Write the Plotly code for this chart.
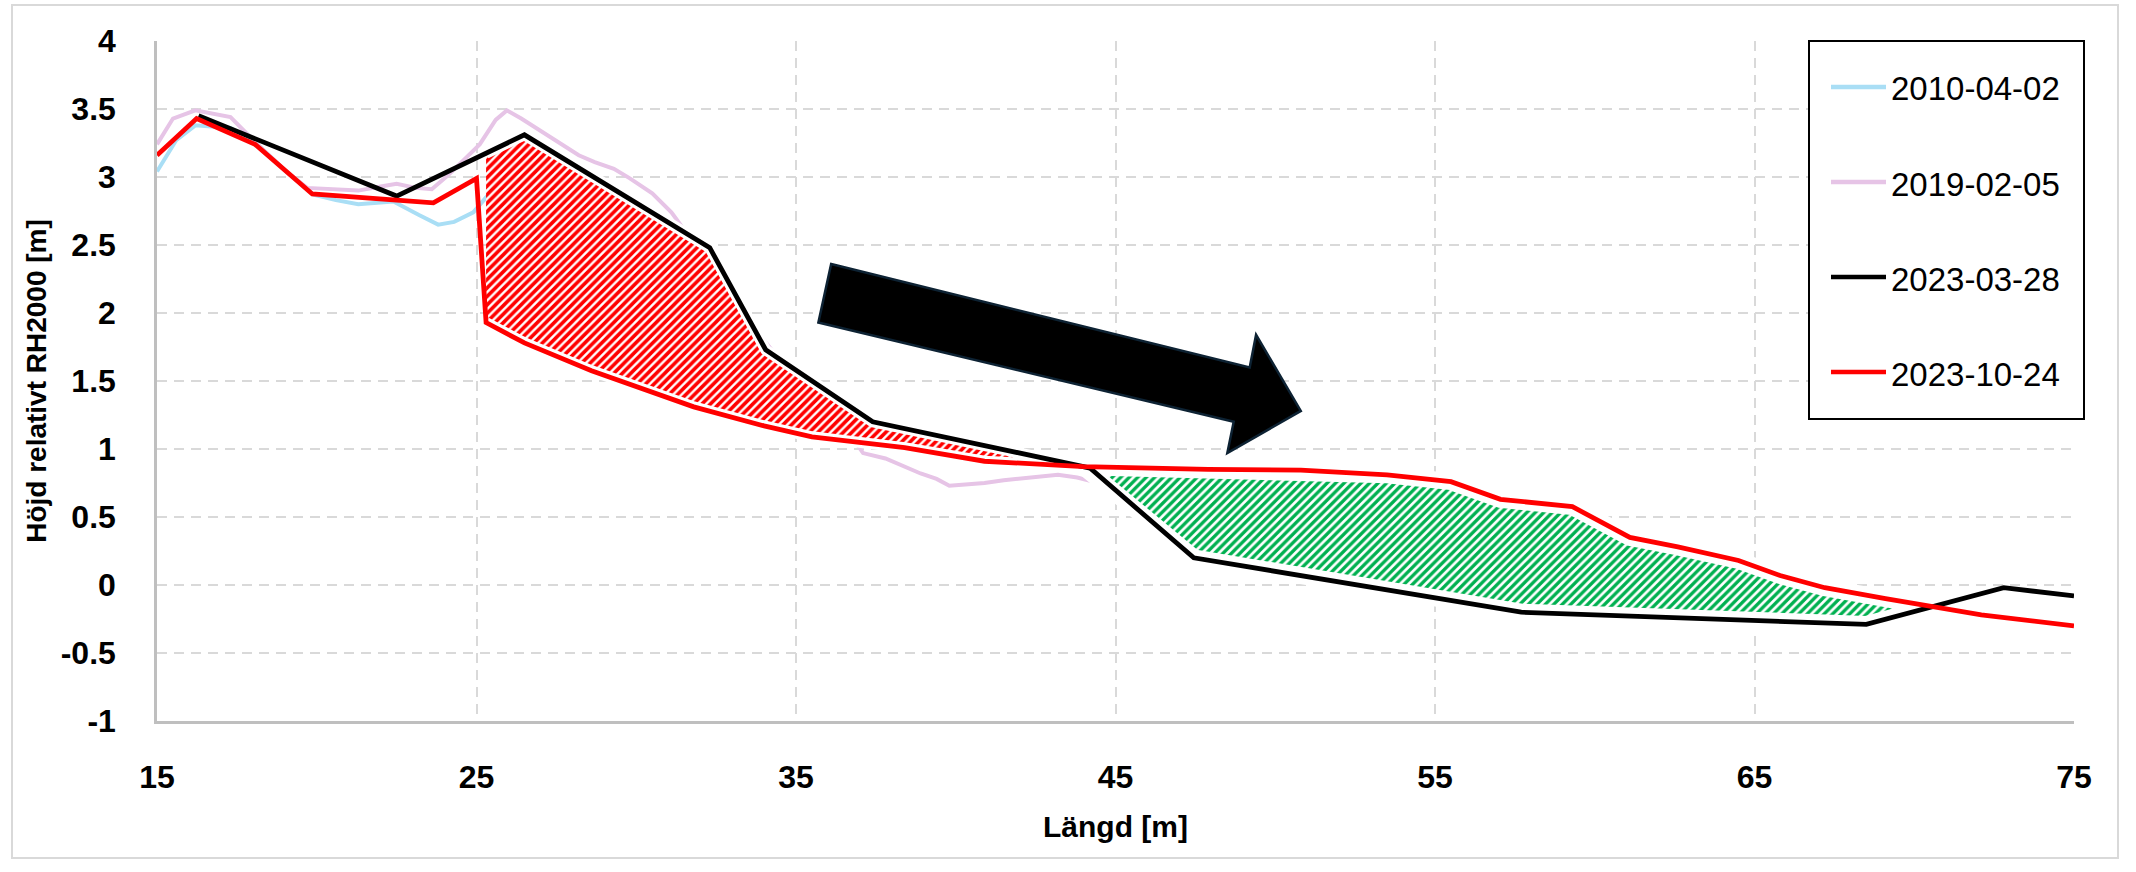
import numpy as np
import plotly.graph_objects as go

# ---------------- data ----------------
series_names = ["2010-04-02", "2019-02-05", "2023-03-28", "2023-10-24"]
series_colors = ["#a9def5", "#e6c4e6", "#000000", "#ff0000"]
series_widths = [4, 4, 4.8, 4.8]

x_2010 = [15.0, 15.6, 16.2, 17.3, 18.1, 19.0, 19.9, 20.6, 21.3, 22.4, 23.2, 23.8, 24.3, 24.9, 25.3,
          26.5, 29.0, 32.2, 34.1, 35.5, 37.4, 40.0, 43.2, 44.5, 46.0, 48.4]
y_2010 = [3.04, 3.27, 3.38, 3.36, 3.25, 3.05, 2.87, 2.83, 2.80, 2.82, 2.72, 2.65, 2.67, 2.74, 2.85,
          3.20, 2.85, 2.45, 1.73, 1.45, 1.21, 1.05, 0.92, 0.82, 0.80, 0.80]

x_2019 = [15.0, 15.5, 16.2, 17.3, 18.1, 19.0, 19.7, 20.5, 21.3, 22.0, 22.5, 23.1, 23.6, 24.1, 24.6,
          25.1, 25.6, 25.95, 26.4, 26.8, 27.5, 28.2, 28.7, 29.3, 29.8, 30.5, 31.1, 31.6, 32.2, 33.0,
          34.0, 35.0, 36.0, 36.8, 37.1, 37.8, 38.4, 38.9, 39.4, 39.8, 40.4, 40.9, 41.5, 42.3, 43.2,
          43.8, 44.3, 44.6, 45.0, 45.5]
y_2019 = [3.24, 3.43, 3.49, 3.44, 3.25, 3.05, 2.92, 2.91, 2.90, 2.93, 2.95, 2.92, 2.91, 3.01, 3.12,
          3.24, 3.42, 3.49, 3.43, 3.37, 3.27, 3.16, 3.11, 3.06, 2.99, 2.88, 2.74, 2.58, 2.42, 2.15,
          1.80, 1.50, 1.25, 1.07, 0.97, 0.93, 0.87, 0.82, 0.78, 0.73, 0.74, 0.75, 0.77, 0.79, 0.81,
          0.79, 0.76, 0.73, 0.70, 0.66]

x_2023a = [16.3, 22.5, 26.5, 32.3, 34.05, 37.4, 44.2, 47.45, 57.7, 68.5, 72.8, 75.0]
y_2023a = [3.45, 2.86, 3.31, 2.48, 1.73, 1.20, 0.86, 0.20, -0.20, -0.29, -0.02, -0.08]

x_2023b = [15.0, 16.24, 18.07, 19.86, 23.65, 25.0, 25.3, 26.5, 28.6, 30.0, 31.8, 34.0, 35.5, 38.4,
           40.9, 44.0, 47.9, 50.8, 53.5, 55.5, 57.05, 59.3, 61.1, 62.6, 64.5, 65.8, 67.2, 69.1,
           70.5, 72.1, 75.0]
y_2023b = [3.16, 3.43, 3.24, 2.875, 2.81, 2.99, 1.93, 1.78, 1.575, 1.46, 1.31, 1.17, 1.09, 1.01,
           0.91, 0.87, 0.85, 0.845, 0.81, 0.76, 0.63, 0.576, 0.35, 0.28, 0.18, 0.07, -0.02, -0.10,
           -0.16, -0.22, -0.30]

x_tick_vals = [15, 25, 35, 45, 55, 65, 75]
x_tick_labels = ["15", "25", "35", "45", "55", "65", "75"]
y_tick_vals = [-1, -0.5, 0, 0.5, 1, 1.5, 2, 2.5, 3, 3.5, 4]
y_tick_labels = ["-1", "-0.5", "0", "0.5", "1", "1.5", "2", "2.5", "3", "3.5", "4"]

erosion_start = 25.3   # x where the 2023-10-24 profile steps down

# ---------------- styling constants ----------------
FONT = "Liberation Sans"
GRID = "#d9d9d9"
AXIS = "#bfbfbf"
W, H = 2136, 872
ML, MR, MT, MB = 157, 62, 41, 151

fig = go.Figure()

xs_all = [x_2010, x_2019, x_2023a, x_2023b]
ys_all = [y_2010, y_2019, y_2023a, y_2023b]

# light lines first (under hatches)
for i in (0, 1):
    fig.add_trace(go.Scatter(x=xs_all[i], y=ys_all[i], mode="lines", name=series_names[i],
                             line=dict(color=series_colors[i], width=series_widths[i]),
                             showlegend=False, hoverinfo="skip"))

# hatched areas between the two 2023 profiles
xb, yb = np.array(x_2023a), np.array(y_2023a)
xr, yr = np.array(x_2023b), np.array(y_2023b)
grid = np.linspace(erosion_start, xb[-1], 60001)
diff = np.interp(grid, xb, yb) - np.interp(grid, xr, yr)
cross = grid[np.where(np.diff(np.sign(diff)) != 0)[0]]
c1, c2 = cross[0], cross[1]


def region(xt, yt, xbot, ybot, a, b):
    tx = [a] + [v for v in xt if a < v < b] + [b]
    bx = [a] + [v for v in xbot if a < v < b] + [b]
    ty = np.interp(tx, xt, yt)
    by = np.interp(bx, xbot, ybot)
    return list(tx) + list(bx[::-1]), list(ty) + list(by[::-1])


px, py = region(xb, yb, xr, yr, erosion_start, c1)
fig.add_trace(go.Scatter(x=px, y=py, mode="lines", fill="toself",
                         line=dict(color="white", width=11),
                         fillpattern=dict(shape="/", fgcolor="#ff0000", bgcolor="white",
                                          size=6, solidity=0.6, fillmode="replace"),
                         showlegend=False, hoverinfo="skip"))
gx, gy = region(xr, yr, xb, yb, c1, c2)
fig.add_trace(go.Scatter(x=gx, y=gy, mode="lines", fill="toself",
                         line=dict(color="white", width=17),
                         fillpattern=dict(shape="/", fgcolor="#00b050", bgcolor="white",
                                          size=6, solidity=0.55, fillmode="replace"),
                         showlegend=False, hoverinfo="skip"))

for i in (2, 3):
    fig.add_trace(go.Scatter(x=xs_all[i], y=ys_all[i], mode="lines", name=series_names[i],
                             line=dict(color=series_colors[i], width=series_widths[i]),
                             showlegend=False, hoverinfo="skip"))

# big block arrow (decoration)
ARROW = "M36.1,2.36 L49.2,1.60 L49.4,1.84 L50.8,1.28 L48.5,0.97 L48.7,1.20 L35.7,1.93 Z"
shapes = [dict(type="path", path=ARROW, xref="x", yref="y", fillcolor="black",
               line=dict(color="#0d2233", width=2.5), layer="above")]

# outer chart border
pw, ph = W - ML - MR, H - MT - MB
def paper_x(p):
    return (p - ML) / pw
def paper_y(p):
    return (H - MB - p) / ph

shapes.append(dict(type="rect", xref="paper", yref="paper",
                   x0=paper_x(12), x1=paper_x(2118), y0=paper_y(858), y1=paper_y(5),
                   line=dict(color=GRID, width=2), fillcolor="rgba(0,0,0,0)", layer="below"))

# legend (boxed, right side)
LEG_L, LEG_R, LEG_T, LEG_B = 1809, 2084, 41, 419
shapes.append(dict(type="rect", xref="paper", yref="paper",
                   x0=paper_x(LEG_L), x1=paper_x(LEG_R), y0=paper_y(LEG_B), y1=paper_y(LEG_T),
                   line=dict(color="black", width=2), fillcolor="white", layer="above"))
annotations = []
first_c, step = 87, 95
for i, name in enumerate(series_names):
    cy = first_c + i * step
    shapes.append(dict(type="line", xref="paper", yref="paper",
                       x0=paper_x(1831), x1=paper_x(1886), y0=paper_y(cy), y1=paper_y(cy),
                       line=dict(color=series_colors[i], width=4.5), layer="above"))
    annotations.append(dict(text=name, xref="paper", yref="paper", x=paper_x(1889),
                            y=paper_y(cy + 2), xanchor="left", yanchor="middle", showarrow=False,
                            font=dict(family=FONT, size=33, color="black")))

fig.update_layout(
    width=W, height=H, autosize=False,
    margin=dict(l=ML, r=MR, t=MT, b=MB),
    paper_bgcolor="white", plot_bgcolor="white",
    shapes=shapes, annotations=annotations,
    showlegend=False,
    xaxis=dict(range=[15, 75], tickvals=x_tick_vals, ticktext=x_tick_labels,
               showgrid=True, gridcolor=GRID, gridwidth=2, griddash="10px,7px",
               showline=True, linecolor=AXIS, linewidth=2.5, zeroline=False,
               ticks="", ticklabelstandoff=26,
               tickfont=dict(family=FONT, size=32, color="black", weight="bold"),
               title=dict(text="Längd [m]", standoff=22,
                          font=dict(family=FONT, size=30, color="black", weight="bold"))),
    yaxis=dict(range=[-1, 4], tickvals=y_tick_vals, ticktext=y_tick_labels,
               showgrid=True, gridcolor=GRID, gridwidth=2, griddash="10px,7px",
               showline=True, linecolor=AXIS, linewidth=2.5, zeroline=False,
               ticks="", ticklabelstandoff=32,
               tickfont=dict(family=FONT, size=32, color="black", weight="bold"),
               title=dict(text="Höjd relativt RH2000 [m]", standoff=6,
                          font=dict(family=FONT, size=28, color="black", weight="bold"))),
)

fig.write_html("out.html")
